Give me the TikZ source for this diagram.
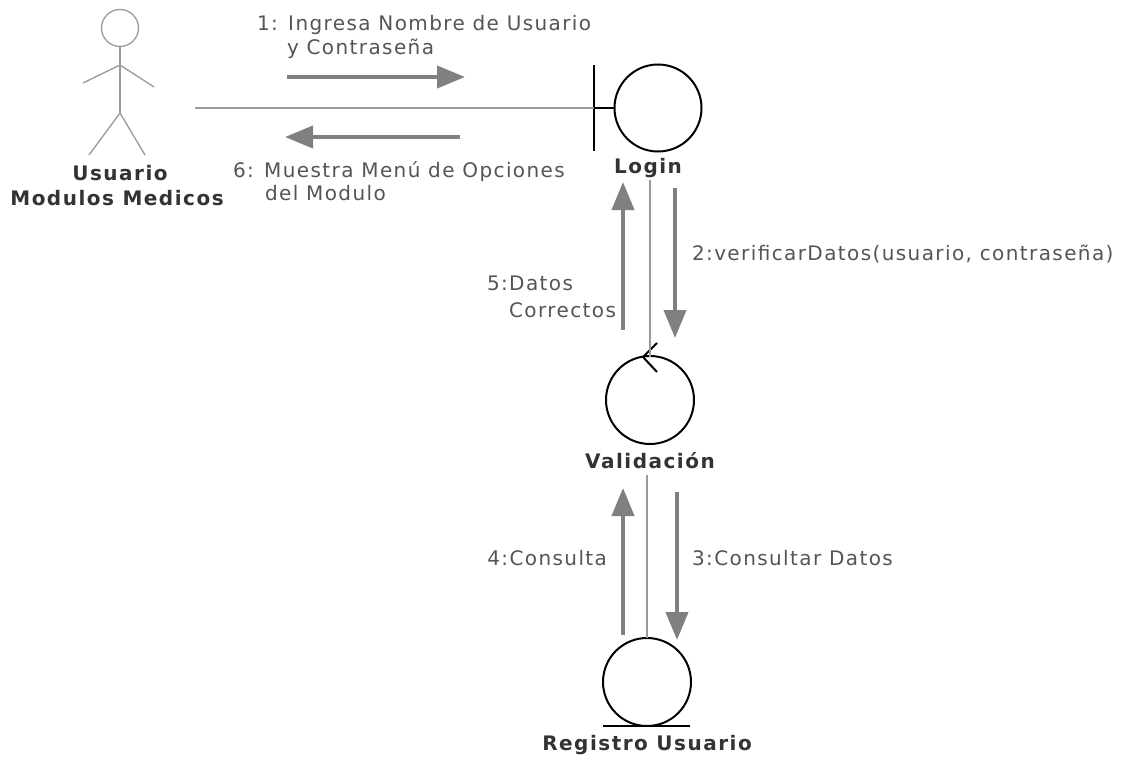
\documentclass[tikz,border=0pt]{standalone}
\usepackage{fontspec}
\setmainfont{DejaVu Sans}
\newfontfamily\msgfont[LetterSpace=7]{DejaVu Sans}
\newfontfamily\namefont[LetterSpace=7.5]{DejaVu Sans Bold}
\usetikzlibrary{arrows.meta}
\definecolor{msg}{HTML}{808080}
\definecolor{lbl}{HTML}{555555}
\definecolor{name}{HTML}{333333}
\definecolor{link}{HTML}{9A9A9A}
\tikzset{
  every node/.style={inner sep=0pt, outer sep=0pt},
  msgarrow/.style={draw=msg, line width=4pt, -{Triangle[length=28pt,width=22pt]}},
  linkline/.style={draw=link, line width=1.3pt},
  shapeline/.style={draw=black, line width=2pt},
  msglabel/.style={text=lbl, font=\msgfont\fontsize{20}{24}\selectfont},
  namelabel/.style={text=name, font=\namefont\fontsize{20}{24}\selectfont},
  actorline/.style={draw=link, line width=1.3pt}
}
\begin{document}
\begin{tikzpicture}[x=1pt,y=-1pt]
\useasboundingbox[fill=white] (0,0) rectangle (1126,760);

% actor
\draw[actorline] (120,28) circle (18.5);
\draw[actorline] (120,46.5) -- (120,113);
\draw[actorline] (83,83) -- (120,65) -- (154,87);
\draw[actorline] (89,155) -- (120,113) -- (145,155);
\node[namelabel, anchor=base] (actorA) at (120,180) {Usuario};
\node[namelabel, anchor=base] (actorB) at (117,205) {Modulos Medicos};
\coordinate (actor) at (195,108);

% boundary: Login
\node[circle, shapeline, minimum size=87pt] (login) at (658,108) {};
\draw[shapeline] (594,65) -- (594,151);
\draw[shapeline] (594,108) -- (login.west);
\node[namelabel, anchor=base] (loginlbl) at (648,173) {Login};

% control: Validacion
\node[circle, shapeline, minimum size=88pt] (valid) at (650,400) {};
\draw[shapeline] (657,343) -- (643,357) -- (657,372);
\node[namelabel, anchor=base] (validlbl) at (650,468) {Validación};

% entity: Registro Usuario
\node[circle, shapeline, minimum size=88pt] (reg) at (647,682) {};
\draw[shapeline] (603,726) -- (690,726);
\node[namelabel, anchor=base] (reglbl) at (647,750) {Registro Usuario};

% links
\draw[linkline] (actor) -- (594,108);
\draw[linkline] (650,180) -- (650,357);
\draw[linkline] (647,475) -- (reg.north -| 647,0);

% messages
\draw[msgarrow] (287,77) -- (465,77);
\node[msglabel, anchor=base west] (m1a) at (257,31) {1: Ingresa Nombre de Usuario};
\node[msglabel, anchor=base west] (m1b) at (287,55) {y Contraseña};

\draw[msgarrow] (460,137) -- (285,137);
\node[msglabel, anchor=base west] (m6a) at (233,177) {6: Muestra Menú de Opciones};
\node[msglabel, anchor=base west] (m6b) at (265,200) {del Modulo};

\draw[msgarrow] (675,188) -- (675,338);
\node[msglabel, anchor=base west] (m2) at (692,260) {2:verificarDatos(usuario, contraseña)};

\draw[msgarrow] (623,330) -- (623,182);
\node[msglabel, anchor=base west] (m5a) at (487,290) {5:Datos};
\node[msglabel, anchor=base east] (m5b) at (616,317) {Correctos};

\draw[msgarrow] (677,492) -- (677,640);
\node[msglabel, anchor=base west] (m3) at (692,565) {3:Consultar Datos};

\draw[msgarrow] (623,635) -- (623,488);
\node[msglabel, anchor=base east] (m4) at (607,565) {4:Consulta};
\end{tikzpicture}
\end{document}
